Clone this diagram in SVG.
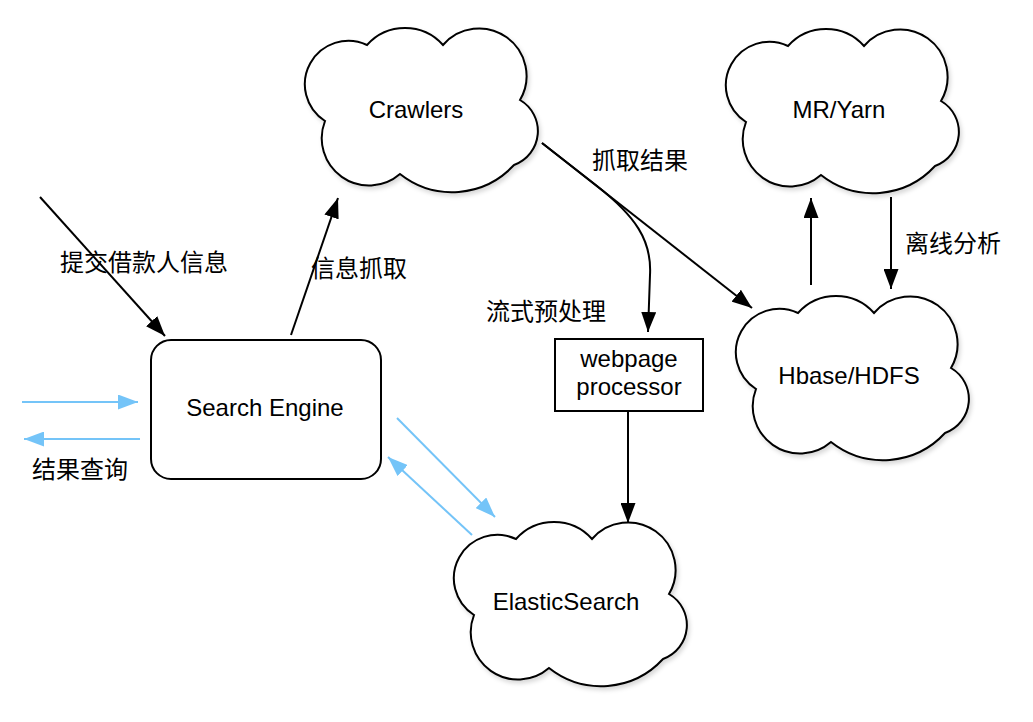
<svg xmlns="http://www.w3.org/2000/svg" xmlns:xlink="http://www.w3.org/1999/xlink" width="1033" height="722" viewBox="0 0 1033 722">
<style>
.shape{fill:#fff;stroke:#000;stroke-width:2}
.lbl{font-family:"Liberation Sans","Noto Sans CJK SC",sans-serif;font-size:24px;fill:#000}
.mid{text-anchor:middle}
.blk{fill:none;stroke:#000;stroke-width:2}
.blu{fill:none;stroke:#74C4F8;stroke-width:2}
</style>
<defs>
<filter id="sh" x="-10%" y="-10%" width="130%" height="130%">
<feDropShadow dx="2" dy="3" stdDeviation="2" flood-color="#000" flood-opacity="0.15"/>
</filter>
<path id="cloud" d="M23,93 A43.5,43.5 0 0 1 65,17 A51,51 0 0 1 141,17 A47.5,47.5 0 0 1 218,72 A36,36 0 0 1 212,137 A84,84 0 0 1 98,146 A47.3,47.3 0 0 1 23,93 Z"/>
<marker id="ab" markerUnits="userSpaceOnUse" markerWidth="21" markerHeight="15" refX="20" refY="7.5" orient="auto">
<path d="M0,0 L20,7.5 L0,15 Z" fill="#000"/>
</marker>
<marker id="au" markerUnits="userSpaceOnUse" markerWidth="21" markerHeight="15" refX="20" refY="7.5" orient="auto">
<path d="M0,0 L20,7.5 L0,15 Z" fill="#74C4F8"/>
</marker>
</defs>
<rect width="1033" height="722" fill="#fff"/>

<g id="crawlers">
<use xlink:href="#cloud" href="#cloud" class="shape" filter="url(#sh)" transform="translate(302,28)"/>
<text class="lbl mid" x="416" y="118">Crawlers</text>
</g>
<g id="mryarn">
<use xlink:href="#cloud" href="#cloud" class="shape" filter="url(#sh)" transform="translate(723,29)"/>
<text class="lbl mid" x="839" y="118">MR/Yarn</text>
</g>
<g id="hbase">
<use xlink:href="#cloud" href="#cloud" class="shape" filter="url(#sh)" transform="translate(733,296)"/>
<text class="lbl mid" x="849" y="384">Hbase/HDFS</text>
</g>
<g id="elasticsearch">
<use xlink:href="#cloud" href="#cloud" class="shape" filter="url(#sh)" transform="translate(451,522)"/>
<text class="lbl mid" x="566" y="610">ElasticSearch</text>
</g>
<g id="searchengine">
<rect class="shape" x="151" y="340" width="230" height="139" rx="20" ry="20"/>
<text class="lbl mid" x="265" y="416">Search Engine</text>
</g>
<g id="webpageprocessor">
<rect class="shape" x="555" y="339" width="148" height="72"/>
<text class="lbl mid" x="629" y="367">webpage</text>
<text class="lbl mid" x="629" y="395">processor</text>
</g>

<g id="connectors">
<line class="blk" x1="40" y1="197" x2="165" y2="336" marker-end="url(#ab)"/>
<line class="blk" x1="291" y1="335" x2="338" y2="198" marker-end="url(#ab)"/>
<line class="blu" x1="22" y1="402" x2="138" y2="402" marker-end="url(#au)"/>
<line class="blu" x1="140" y1="439" x2="24" y2="439" marker-end="url(#au)"/>
<line class="blu" x1="397" y1="418" x2="495" y2="517" marker-end="url(#au)"/>
<line class="blu" x1="472" y1="535" x2="388" y2="457" marker-end="url(#au)"/>
<line class="blk" x1="542" y1="143" x2="752" y2="308" marker-end="url(#ab)"/>
<path class="blk" d="M542,143 L597,186 C635,216 652,240 650,275 L648,332" marker-end="url(#ab)"/>
<line class="blk" x1="628" y1="411" x2="628" y2="523" marker-end="url(#ab)"/>
<line class="blk" x1="811" y1="285" x2="811" y2="198" marker-end="url(#ab)"/>
<line class="blk" x1="891" y1="197" x2="891" y2="289" marker-end="url(#ab)"/>
</g>

<g id="labels">
<text class="lbl" x="60" y="271">提交借款人信息</text>
<text class="lbl" x="311" y="277">信息抓取</text>
<text class="lbl" x="32" y="478">结果查询</text>
<text class="lbl" x="592" y="169">抓取结果</text>
<text class="lbl" x="486" y="320">流式预处理</text>
<text class="lbl" x="905" y="252">离线分析</text>
</g>
</svg>
